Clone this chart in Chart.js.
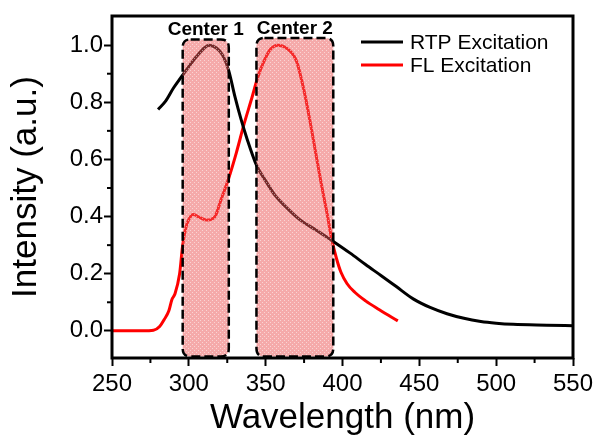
<!DOCTYPE html>
<html>
<head>
<meta charset="utf-8">
<script src="https://cdn.jsdelivr.net/npm/chart.js@4.4.1/dist/chart.umd.min.js"></script>
<style>
  html, body { margin: 0; padding: 0; background: #fff; }
  #wrap { width: 602px; height: 441px; position: relative; }
</style>
</head>
<body>
<div id="wrap"><canvas id="chart"></canvas></div>
<script>
// RTP excitation (black)
const rtpWavelength = [280, 285, 290, 295, 300, 305, 310, 313, 318, 322, 326, 330, 334, 338, 344, 350, 356, 362, 372, 383, 394, 405, 415, 425, 435, 446, 457, 468, 479, 490, 500, 511, 533, 550];
const rtpIntensity = [0.775, 0.805, 0.85, 0.888, 0.925, 0.96, 0.99, 1.0, 0.99, 0.965, 0.91, 0.82, 0.74, 0.67, 0.58, 0.525, 0.475, 0.44, 0.39, 0.352, 0.313, 0.272, 0.232, 0.194, 0.155, 0.112, 0.082, 0.06, 0.044, 0.033, 0.027, 0.023, 0.02, 0.018];

// FL excitation (red)
const flWavelength = [250, 260, 270, 277, 281, 284, 287, 289, 291, 294, 296, 298, 300, 303, 307, 312, 317, 321, 326, 331, 336, 341, 345, 349, 353, 358, 364, 370, 375, 379, 382, 386, 390, 393, 396, 399, 403, 408, 415, 424, 436];
const flIntensity = [0.0, 0.0, 0.0, 0.002, 0.015, 0.04, 0.07, 0.11, 0.13, 0.2, 0.3, 0.36, 0.39, 0.407, 0.397, 0.388, 0.4, 0.46, 0.535, 0.625, 0.725, 0.815, 0.89, 0.945, 0.985, 1.0, 0.988, 0.945, 0.84, 0.73, 0.64, 0.52, 0.41, 0.32, 0.255, 0.205, 0.165, 0.135, 0.105, 0.074, 0.035];

const seriesLabels = ["RTP Excitation", "FL Excitation"];
const seriesColors = ["#000000", "#ff0000"];

const xTicks = [250, 300, 350, 400, 450, 500, 550];
const xMinorTicks = [275, 325, 375, 425, 475, 525];
const yTicks = [0, 0.2, 0.4, 0.6, 0.8, 1.0];
const yMinorTicks = [0.1, 0.3, 0.5, 0.7, 0.9];

// shaded "center" bands
const centerLabels = ["Center 1", "Center 2"];
const centerStart = [296, 344];
const centerEnd = [326, 394];
const centerTop = [1.02, 1.025];
const centerBottom = -0.09;

const FONT = "'Liberation Sans', Arial, Helvetica, sans-serif";
Chart.defaults.font.family = FONT;
Chart.defaults.color = "#000";

const toPoints = (xs, ys) => xs.map((x, i) => ({ x, y: ys[i] }));

function makePattern() {
  const c = document.createElement("canvas");
  c.width = 4;
  c.height = 4;
  const g = c.getContext("2d");
  g.fillStyle = "rgba(235,85,85,0.5)";
  g.fillRect(0, 0, 4, 4);
  g.fillStyle = "rgba(255,255,255,0.5)";
  g.fillRect(0, 0, 1, 1);
  g.fillRect(2, 2, 1, 1);
  return g.createPattern(c, "repeat");
}

function roundedRect(ctx, x, y, w, h, r) {
  ctx.beginPath();
  ctx.moveTo(x + r, y);
  ctx.lineTo(x + w - r, y);
  ctx.quadraticCurveTo(x + w, y, x + w, y + r);
  ctx.lineTo(x + w, y + h - r);
  ctx.quadraticCurveTo(x + w, y + h, x + w - r, y + h);
  ctx.lineTo(x + r, y + h);
  ctx.quadraticCurveTo(x, y + h, x, y + h - r);
  ctx.lineTo(x, y + r);
  ctx.quadraticCurveTo(x, y, x + r, y);
  ctx.closePath();
}

const centerBands = {
  id: "centerBands",
  afterDatasetsDraw(chart) {
    const { ctx, scales: { x, y } } = chart;
    const pattern = makePattern();
    ctx.save();
    centerLabels.forEach((label, i) => {
      const left = x.getPixelForValue(centerStart[i]);
      const right = x.getPixelForValue(centerEnd[i]);
      const top = y.getPixelForValue(centerTop[i]);
      const bottom = y.getPixelForValue(centerBottom);
      roundedRect(ctx, left, top, right - left, bottom - top, 8);
      ctx.fillStyle = pattern;
      ctx.fill();
      ctx.setLineDash([9, 4]);
      ctx.lineWidth = 2.5;
      ctx.strokeStyle = "#000";
      ctx.stroke();
      ctx.setLineDash([]);
      ctx.font = "bold 19px " + FONT;
      ctx.textAlign = "center";
      ctx.textBaseline = "alphabetic";
      ctx.fillStyle = "#000";
      ctx.fillText(label, (left + right) / 2, top - 4);
    });
    ctx.restore();
  }
};

const frameAndLegend = {
  id: "frameAndLegend",
  afterDraw(chart) {
    const { ctx, chartArea: a, scales: { x, y } } = chart;
    ctx.save();
    // minor ticks
    ctx.strokeStyle = "#000";
    ctx.lineWidth = 2;
    xMinorTicks.forEach(v => {
      const px = x.getPixelForValue(v);
      ctx.beginPath();
      ctx.moveTo(px, a.bottom);
      ctx.lineTo(px, a.bottom + 5);
      ctx.stroke();
    });
    yMinorTicks.forEach(v => {
      const py = y.getPixelForValue(v);
      ctx.beginPath();
      ctx.moveTo(a.left, py);
      ctx.lineTo(a.left - 5, py);
      ctx.stroke();
    });
    // frame
    ctx.lineWidth = 3;
    ctx.strokeRect(a.left, a.top, a.right - a.left, a.bottom - a.top);
    // legend
    ctx.font = "21px " + FONT;
    ctx.textAlign = "left";
    ctx.textBaseline = "middle";
    chart.data.datasets.forEach((ds, i) => {
      const ly = a.top + 26 + i * 23;
      const lx = a.right - 212;
      ctx.strokeStyle = ds.borderColor;
      ctx.lineWidth = 3;
      ctx.beginPath();
      ctx.moveTo(lx, ly);
      ctx.lineTo(lx + 42, ly);
      ctx.stroke();
      ctx.fillStyle = "#000";
      ctx.fillText(ds.label, lx + 49, ly + 1);
    });
    ctx.restore();
  }
};

new Chart(document.getElementById("chart"), {
  type: "scatter",
  data: {
    datasets: [
      {
        label: seriesLabels[0],
        data: toPoints(rtpWavelength, rtpIntensity),
        borderColor: seriesColors[0],
        showLine: true,
        borderWidth: 3,
        pointRadius: 0,
        cubicInterpolationMode: "monotone"
      },
      {
        label: seriesLabels[1],
        data: toPoints(flWavelength, flIntensity),
        borderColor: seriesColors[1],
        showLine: true,
        borderWidth: 3,
        pointRadius: 0,
        cubicInterpolationMode: "monotone"
      }
    ]
  },
  options: {
    responsive: true,
    maintainAspectRatio: false,
    animation: false,
    layout: { padding: { top: 16, right: 29, left: 0, bottom: 0 } },
    plugins: {
      legend: { display: false },
      tooltip: { enabled: false }
    },
    scales: {
      x: {
        type: "linear",
        min: 250,
        max: 550,
        afterBuildTicks: axis => {
          axis.ticks = xTicks.map(v => ({ value: v }));
        },
        afterFit: scale => {
          scale.height = 83;
        },
        ticks: {
          font: { size: 24 },
          padding: 4,
          maxRotation: 0,
          color: "#000"
        },
        grid: {
          drawOnChartArea: false,
          drawTicks: true,
          tickLength: 8,
          tickWidth: 2,
          tickColor: "#000"
        },
        border: { display: false },
        title: {
          display: true,
          text: "Wavelength (nm)",
          font: { size: 35 },
          color: "#000",
          padding: { top: 0, bottom: 2 }
        }
      },
      y: {
        type: "linear",
        min: -0.095,
        max: 1.102,
        afterBuildTicks: axis => {
          axis.ticks = yTicks.map(v => ({ value: v }));
        },
        afterFit: scale => {
          scale.width = 112;
        },
        ticks: {
          font: { size: 24 },
          padding: 1,
          color: "#000",
          callback: v => Number(v).toFixed(1)
        },
        grid: {
          drawOnChartArea: false,
          drawTicks: true,
          tickLength: 8,
          tickWidth: 2,
          tickColor: "#000"
        },
        border: { display: false },
        title: {
          display: true,
          text: "Intensity (a.u.)",
          font: { size: 35 },
          color: "#000",
          padding: { top: 5, bottom: 0 }
        }
      }
    }
  },
  plugins: [centerBands, frameAndLegend]
});
</script>
</body>
</html>
